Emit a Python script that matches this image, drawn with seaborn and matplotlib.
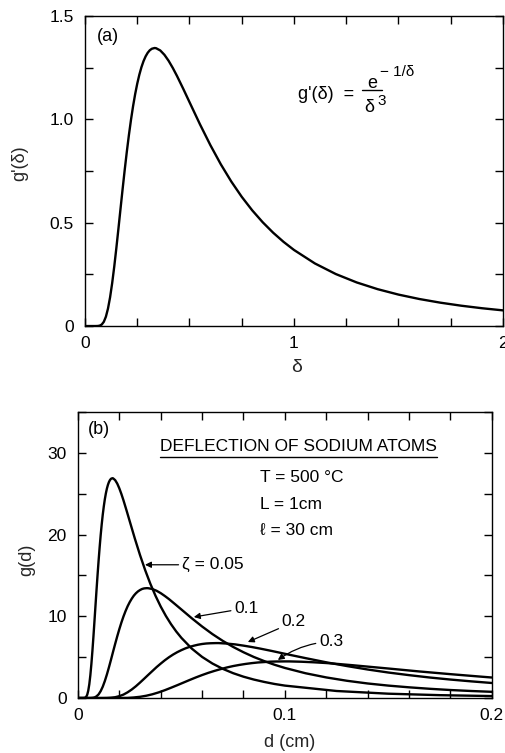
import numpy as np
import pandas as pd
import matplotlib
matplotlib.use("Agg")
import matplotlib.pyplot as plt
import seaborn as sns

# ---------------- data ----------------
# panel (a): g'(delta)
delta = [0.0, 0.05, 0.06, 0.07, 0.08, 0.09, 0.10, 0.11, 0.12, 0.13, 0.14, 0.15, 0.16, 0.17,
         0.18, 0.19, 0.20, 0.21, 0.22, 0.23, 0.24, 0.25, 0.26, 0.27, 0.28, 0.29, 0.30, 0.31,
         0.32, 0.333, 0.34, 0.36, 0.38, 0.40, 0.42, 0.44, 0.47, 0.50, 0.55, 0.60, 0.65, 0.70,
         0.75, 0.80, 0.85, 0.90, 0.95, 1.0, 1.1, 1.2, 1.3, 1.4, 1.5, 1.6, 1.7, 1.8, 1.9, 2.0]
gprime = [0.0, 0.0000, 0.0003, 0.0018, 0.0073, 0.0205, 0.0454, 0.0847, 0.1391, 0.2077, 0.2881,
          0.3772, 0.4713, 0.5677, 0.6629, 0.7551, 0.8422, 0.9231, 0.9970, 1.0631, 1.1215,
          1.1722, 1.2154, 1.2515, 1.2808, 1.3039, 1.3213, 1.3335, 1.3408, 1.3443, 1.3434,
          1.3326, 1.3115, 1.2826, 1.2480, 1.2095, 1.1472, 1.0827, 0.9756, 0.8745, 0.7818,
          0.6987, 0.6248, 0.5596, 0.5022, 0.4516, 0.4071, 0.3679, 0.3027, 0.2515, 0.2109,
          0.1784, 0.1521, 0.1307, 0.1131, 0.0984, 0.0861, 0.0758]

# panel (b): g(d) for several zeta values
d_005 = [0, 0.0025, 0.003, 0.0035, 0.004, 0.0045, 0.005, 0.0055, 0.006, 0.0065, 0.007,
         0.0075, 0.008, 0.0085, 0.009, 0.0095, 0.01, 0.0105, 0.011, 0.0115, 0.012,
         0.0125, 0.013, 0.0135, 0.014, 0.0145, 0.015, 0.0155, 0.016, 0.01667, 0.017,
         0.018, 0.019, 0.02, 0.021, 0.022, 0.0235, 0.025, 0.0275, 0.03, 0.0325,
         0.035, 0.0375, 0.04, 0.0425, 0.045, 0.0475, 0.05, 0.055, 0.06, 0.065,
         0.07, 0.075, 0.08, 0.085, 0.09, 0.095, 0.1, 0.125, 0.15, 0.175, 0.2]
g_005 = [0, 0, 0.01, 0.04, 0.15, 0.41, 0.91, 1.69, 2.78, 4.15, 5.76,
         7.54, 9.43, 11.35, 13.26, 15.10, 16.84, 18.46, 19.94, 21.26, 22.43,
         23.44, 24.31, 25.03, 25.62, 26.08, 26.43, 26.67, 26.82, 26.89, 26.87,
         26.65, 26.23, 25.65, 24.96, 24.19, 22.94, 21.65, 19.51, 17.49, 15.64,
         13.97, 12.50, 11.19, 10.04, 9.03, 8.14, 7.36, 6.05, 5.03, 4.22,
         3.57, 3.04, 2.61, 2.26, 1.97, 1.72, 1.52, 0.86, 0.53, 0.35, 0.24]

d_01 = [0, 0.005, 0.006, 0.007, 0.008, 0.009, 0.01, 0.011, 0.012, 0.013, 0.014,
        0.015, 0.016, 0.017, 0.018, 0.019, 0.02, 0.021, 0.022, 0.023, 0.024,
        0.025, 0.026, 0.027, 0.028, 0.029, 0.03, 0.031, 0.032, 0.0333, 0.034,
        0.036, 0.038, 0.04, 0.042, 0.044, 0.047, 0.05, 0.055, 0.06, 0.065,
        0.07, 0.075, 0.08, 0.085, 0.09, 0.095, 0.1, 0.11, 0.12, 0.13,
        0.14, 0.15, 0.16, 0.17, 0.18, 0.19, 0.2]
g_01 = [0, 0, 0.00, 0.02, 0.07, 0.21, 0.45, 0.85, 1.39, 2.08, 2.88,
        3.77, 4.71, 5.68, 6.63, 7.55, 8.42, 9.23, 9.97, 10.63, 11.22,
        11.72, 12.15, 12.52, 12.81, 13.04, 13.21, 13.34, 13.41, 13.44, 13.43,
        13.33, 13.12, 12.83, 12.48, 12.10, 11.47, 10.83, 9.76, 8.75, 7.82,
        6.99, 6.25, 5.60, 5.02, 4.52, 4.07, 3.68, 3.03, 2.52, 2.11,
        1.78, 1.52, 1.31, 1.13, 0.98, 0.86, 0.76]

d_02 = [0, 0.01, 0.012, 0.014, 0.016, 0.018, 0.02, 0.022, 0.024, 0.026, 0.028,
        0.03, 0.032, 0.034, 0.036, 0.038, 0.04, 0.042, 0.044, 0.046, 0.048,
        0.05, 0.052, 0.054, 0.056, 0.058, 0.06, 0.062, 0.064, 0.0667, 0.068,
        0.072, 0.076, 0.08, 0.084, 0.088, 0.094, 0.1, 0.11, 0.12, 0.13,
        0.14, 0.15, 0.16, 0.17, 0.18, 0.19, 0.2]
g_02 = [0, 0, 0.00, 0.01, 0.04, 0.10, 0.23, 0.42, 0.70, 1.04, 1.44,
        1.89, 2.36, 2.84, 3.31, 3.78, 4.21, 4.62, 4.99, 5.32, 5.61,
        5.86, 6.08, 6.26, 6.40, 6.52, 6.61, 6.67, 6.70, 6.72, 6.72,
        6.66, 6.56, 6.41, 6.24, 6.05, 5.74, 5.41, 4.88, 4.37, 3.91,
        3.49, 3.12, 2.80, 2.51, 2.26, 2.04, 1.84]

d_03 = [0, 0.015, 0.018, 0.021, 0.024, 0.027, 0.03, 0.033, 0.036, 0.039, 0.042,
        0.045, 0.048, 0.051, 0.054, 0.057, 0.06, 0.063, 0.066, 0.069, 0.072,
        0.075, 0.078, 0.081, 0.084, 0.087, 0.09, 0.093, 0.096, 0.1, 0.102,
        0.108, 0.114, 0.12, 0.126, 0.132, 0.141, 0.15, 0.165, 0.18, 0.195, 0.2]
g_03 = [0, 0, 0.00, 0.01, 0.02, 0.07, 0.15, 0.28, 0.46, 0.69, 0.96,
        1.26, 1.57, 1.89, 2.21, 2.52, 2.81, 3.08, 3.32, 3.54, 3.74,
        3.91, 4.05, 4.17, 4.27, 4.35, 4.40, 4.45, 4.47, 4.48, 4.48,
        4.44, 4.37, 4.28, 4.16, 4.03, 3.82, 3.61, 3.25, 2.92, 2.61, 2.51]

zeta_labels = ["0.05", "0.1", "0.2", "0.3"]

a_xticks = [0, 0.25, 0.5, 0.75, 1, 1.25, 1.5, 1.75, 2]
a_xticklabels = ["0", "", "", "", "1", "", "", "", "2"]
a_yticks = [0, 0.25, 0.5, 0.75, 1.0, 1.25, 1.5]
a_yticklabels = ["0", "", "0.5", "", "1.0", "", "1.5"]
b_xticks = [0, 0.02, 0.04, 0.06, 0.08, 0.1, 0.12, 0.14, 0.16, 0.18, 0.2]
b_xticklabels = ["0", "", "", "", "", "0.1", "", "", "", "", "0.2"]
b_yticks = [0, 5, 10, 15, 20, 25, 30, 35]
b_yticklabels = ["0", "", "10", "", "20", "", "30", ""]

# ---------------- style ----------------
sns.set_theme(style="ticks")
FONT = ["Liberation Sans", "DejaVu Sans"]
plt.rcParams.update({
    "font.family": FONT,
    "axes.edgecolor": "black",
    "axes.linewidth": 1.0,
    "xtick.color": "black",
    "ytick.color": "black",
    "xtick.direction": "in",
    "ytick.direction": "in",
    "xtick.major.size": 6,
    "ytick.major.size": 6,
    "xtick.major.width": 1.0,
    "ytick.major.width": 1.0,
    "xtick.major.pad": 7,
    "ytick.major.pad": 8,
    "xtick.labelsize": 12.5,
    "ytick.labelsize": 12.5,
    "text.color": "black",
})

fig = plt.figure(figsize=(5.06, 7.53), dpi=100)
fig.patch.set_facecolor("white")
ax_a = fig.add_axes([0.168, 0.567, 0.826, 0.412])
ax_b = fig.add_axes([0.154, 0.073, 0.818, 0.380])

LW = 1.7

# ---------------- panel (a) ----------------
df_a = pd.DataFrame({"delta": delta, "gp": gprime})
sns.lineplot(data=df_a, x="delta", y="gp", ax=ax_a, color="black", lw=LW, sort=False)
ax_a.set_xlim(0, 2)
ax_a.set_ylim(0, 1.5)
ax_a.set_xticks(a_xticks)
ax_a.set_xticklabels(a_xticklabels)
ax_a.set_yticks(a_yticks)
ax_a.set_yticklabels(a_yticklabels)
ax_a.tick_params(top=True, right=True)
ax_a.set_xlabel("δ", fontsize=14)
ax_a.set_ylabel("g'(δ)", fontsize=13)
ax_a.xaxis.label.set_va("center")
ax_a.yaxis.label.set_va("center")
ax_a.yaxis.label.set_ha("center")
ax_a.xaxis.set_label_coords(0.505, -0.132)
ax_a.yaxis.set_label_coords(-0.155, 0.526)
ax_a.text(0.029, 0.932, "(a)", transform=ax_a.transAxes, fontsize=13,
          ha="left", va="center")

# formula g'(delta) = e^{-1/delta} / delta^3, composed piece by piece
ax_a.text(0.510, 0.745, "g'(δ)  =", transform=ax_a.transAxes, fontsize=13,
          ha="left", va="center")
ax_a.text(0.687, 0.782, "e", transform=ax_a.transAxes, fontsize=13,
          ha="center", va="center")
ax_a.text(0.706, 0.818, "− 1/δ", transform=ax_a.transAxes, fontsize=11,
          ha="left", va="center")
ax_a.plot([0.663, 0.711], [0.761, 0.761], transform=ax_a.transAxes,
          color="black", lw=1.0)
ax_a.text(0.681, 0.705, "δ", transform=ax_a.transAxes, fontsize=13,
          ha="center", va="center")
ax_a.text(0.699, 0.727, "3", transform=ax_a.transAxes, fontsize=11,
          ha="left", va="center")

# ---------------- panel (b) ----------------
frames = []
for lab, dd, gg in zip(zeta_labels, [d_005, d_01, d_02, d_03], [g_005, g_01, g_02, g_03]):
    frames.append(pd.DataFrame({"d": dd, "g": gg, "zeta": lab}))
df_b = pd.concat(frames, ignore_index=True)
sns.lineplot(data=df_b, x="d", y="g", hue="zeta", palette=["black"] * 4,
             ax=ax_b, lw=LW, sort=False, legend=False)
ax_b.set_xlim(0, 0.2)
ax_b.set_ylim(0, 35)
ax_b.set_xticks(b_xticks)
ax_b.set_xticklabels(b_xticklabels)
ax_b.set_yticks(b_yticks)
ax_b.set_yticklabels(b_yticklabels)
ax_b.tick_params(top=True, right=True)
ax_b.set_xlabel("d (cm)", fontsize=13)
ax_b.set_ylabel("g(d)", fontsize=13)
ax_b.xaxis.label.set_va("center")
ax_b.yaxis.label.set_va("center")
ax_b.yaxis.label.set_ha("center")
ax_b.xaxis.set_label_coords(0.512, -0.154)
ax_b.yaxis.set_label_coords(-0.123, 0.483)
ax_b.text(0.024, 0.937, "(b)", transform=ax_b.transAxes, fontsize=13,
          ha="left", va="center")

title = ax_b.text(0.198, 0.878, "DEFLECTION OF SODIUM ATOMS", transform=ax_b.transAxes,
                  fontsize=12.5, ha="left", va="center")
ax_b.text(0.44, 0.769, "T = 500 °C", transform=ax_b.transAxes, fontsize=12.5,
          ha="left", va="center")
ax_b.text(0.44, 0.675, "L = 1cm", transform=ax_b.transAxes, fontsize=12.5,
          ha="left", va="center")
ax_b.text(0.44, 0.587, "ℓ = 30 cm", transform=ax_b.transAxes, fontsize=12.5,
          ha="left", va="center", family=FONT)

arrow_kw = dict(arrowstyle="-|>", color="black", lw=0.9, mutation_scale=9,
                shrinkA=0, shrinkB=0)
ax_b.annotate("ζ = 0.05", xy=(0.0324, 16.3), xytext=(0.0502, 16.3), fontsize=12.5,
              ha="left", va="center", arrowprops=arrow_kw, family=FONT)
ax_b.annotate("0.1", xy=(0.0560, 9.91), xytext=(0.0755, 11.0), fontsize=12.5,
              ha="left", va="center", arrowprops=arrow_kw)
ax_b.annotate("0.2", xy=(0.0821, 6.85), xytext=(0.0985, 9.3), fontsize=12.5,
              ha="left", va="center", arrowprops=arrow_kw)
ax_b.annotate("0.3", xy=(0.0966, 4.65), xytext=(0.1165, 6.9), fontsize=12.5,
              ha="left", va="center",
              arrowprops=dict(arrow_kw, connectionstyle="arc3,rad=0.15"))

for ax in (ax_a, ax_b):
    for s in ax.spines.values():
        s.set_visible(True)
        s.set_color("black")

# underline for title
fig.canvas.draw()
renderer = fig.canvas.get_renderer()
bb = title.get_window_extent(renderer)
inv = ax_b.transAxes.inverted()
(x0, y0), (x1, y1) = inv.transform([(bb.x0, bb.y0), (bb.x1, bb.y1)])
ax_b.plot([x0, x1], [y0 - 0.008, y0 - 0.008], transform=ax_b.transAxes,
          color="black", lw=1.0, clip_on=False)

fig.savefig("out.png", dpi=100, facecolor="white")
